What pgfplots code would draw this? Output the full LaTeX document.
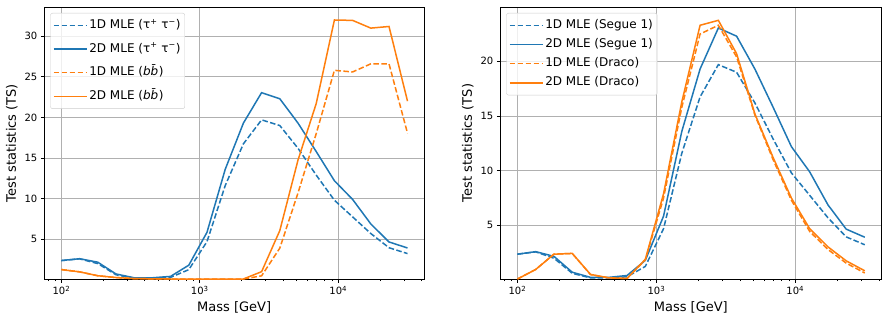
\documentclass[border=0pt]{standalone}
\usepackage{pgfplots}
\pgfplotsset{compat=1.18}
\usepackage{pgfplotstable}
\usepackage{fontspec}
\setmainfont{DejaVu Sans}
\definecolor{c0}{HTML}{1F77B4}
\definecolor{c1}{HTML}{FF7F0E}
\definecolor{gridc}{HTML}{B0B0B0}
\definecolor{legc}{HTML}{CCCCCC}

\pgfplotstableread{
m      t2    t1    b2    b1    d2    d1
100    2.37  2.37  1.26  1.26  0.10  0.10
135.35 2.60  2.58  0.98  0.98  0.97  0.97
183.20 2.17  2.00  0.50  0.50  2.37  2.37
247.97 0.72  0.62  0.28  0.28  2.44  2.44
335.63 0.25  0.20  0.15  0.15  0.52  0.50
454.28 0.25  0.20  0.12  0.12  0.21  0.20
614.88 0.42  0.30  0.10  0.10  0.15  0.15
832.26 1.80  1.25  0.10  0.10  1.89  1.85
1126.5 5.85  4.70  0.10  0.10  7.90  7.50
1524.8 13.6  11.6  0.10  0.10  16.3  15.8
2063.8 19.3  16.75 0.10  0.10  23.3  22.5
2793.4 23.05 19.70 1.00  0.49  23.75 23.3
3781.0 22.3  19.0  6.06  3.90  20.7  20.4
5117.6 19.3  16.2  14.75 10.7  15.2  15.1
6926.8 15.8  12.9  21.7  18.0  11.2  11.0
9375.6 12.2  9.8   32.0  25.8  7.5   7.3
12690  9.9   7.75  31.95 25.6  4.7   4.45
17176  6.88  5.70  31.0  26.6  3.04  2.8
23249  4.66  3.95  31.2  26.6  1.76  1.55
31623  3.92  3.23  22.0  18.05 0.85  0.65
}\data

\tikzset{
  dsh/.style={line width=1.5pt, dash pattern=on 5.55pt off 2.4pt},
  sld/.style={line width=1.5pt},
}

\begin{document}
\begin{tikzpicture}[x=1pt,y=1pt]
\useasboundingbox (0,0) rectangle (888,324);
\begin{axis}[
    /pgf/number format/assume math mode=true,
    xmode=log, log basis x=10,
    scale only axis, height=272pt,
    xmin=75.3, xmax=41600,
    xtick={100,1000,10000},
    xticklabels={10\textsuperscript{2},10\textsuperscript{3},10\textsuperscript{4}},
    minor xtick={80,90,200,300,400,500,600,700,800,900,2000,3000,4000,5000,6000,7000,8000,9000,20000,30000,40000},
    tick align=outside, tick pos=left,
    major tick length=3.5pt, minor tick length=2pt,
    every tick/.style={black, line width=0.8pt},
    grid=major, major grid style={gridc, line width=0.8pt},
    axis line style={line width=0.8pt},
    tick label style={font=\fontsize{10}{12}\selectfont},
    label style={font=\fontsize{13}{15}\selectfont},
    xlabel={Mass [GeV]}, ylabel={Test statistics (TS)},
    ymin=0.1,
    legend cell align=left,
    legend style={at={(0,1)}, anchor=north west, xshift=6pt, yshift=-6pt,
      draw=legc, rounded corners=2pt, fill=white, fill opacity=0.8, text opacity=1,
      font=\fontsize{12}{14}\selectfont, inner xsep=2.5pt, inner ysep=5pt,
      row sep=9pt,
      nodes={inner sep=1.8pt, text depth=0.25em, text height=0.85em}},
    legend image code/.code={\draw[#1] (0pt,0pt) -- (24pt,0pt); \path (0pt,0pt) -- (33pt,0pt);},
    at={(44.3pt,45pt)}, anchor=south west, width=379.7pt,
    ymax=33.6, ytick={5,10,15,20,25,30}]
\addplot[c0, dsh] table[x=m, y=t1] {\data};
\addlegendentry{1D MLE (τ\textsuperscript{+}\ τ\textsuperscript{−})}
\addplot[c0, sld] table[x=m, y=t2] {\data};
\addlegendentry{2D MLE (τ\textsuperscript{+}\ τ\textsuperscript{−})}
\addplot[c1, dsh] table[x=m, y=b1] {\data};
\addlegendentry{1D MLE (\textit{bb̄})}
\addplot[c1, sld] table[x=m, y=b2] {\data};
\addlegendentry{2D MLE (\textit{bb̄})}
\end{axis}
\begin{axis}[
    /pgf/number format/assume math mode=true,
    xmode=log, log basis x=10,
    scale only axis, height=272pt,
    xmin=75.3, xmax=41600,
    xtick={100,1000,10000},
    xticklabels={10\textsuperscript{2},10\textsuperscript{3},10\textsuperscript{4}},
    minor xtick={80,90,200,300,400,500,600,700,800,900,2000,3000,4000,5000,6000,7000,8000,9000,20000,30000,40000},
    tick align=outside, tick pos=left,
    major tick length=3.5pt, minor tick length=2pt,
    every tick/.style={black, line width=0.8pt},
    grid=major, major grid style={gridc, line width=0.8pt},
    axis line style={line width=0.8pt},
    tick label style={font=\fontsize{10}{12}\selectfont},
    label style={font=\fontsize{13}{15}\selectfont},
    xlabel={Mass [GeV]}, ylabel={Test statistics (TS)},
    ymin=0.1,
    legend cell align=left,
    legend style={at={(0,1)}, anchor=north west, xshift=6pt, yshift=-6pt,
      draw=legc, rounded corners=2pt, fill=white, fill opacity=0.8, text opacity=1,
      font=\fontsize{12}{14}\selectfont, inner xsep=2.5pt, inner ysep=5pt,
      row sep=4.5pt,
      nodes={inner sep=1.8pt, text depth=0.25em, text height=0.85em}},
    legend image code/.code={\draw[#1] (0pt,0pt) -- (24pt,0pt); \path (0pt,0pt) -- (33pt,0pt);},
    at={(500.3pt,45pt)}, anchor=south west, width=381pt,
    ymax=24.97, ytick={5,10,15,20}]
\addplot[c0, dsh] table[x=m, y=t1] {\data};
\addlegendentry{1D MLE (Segue 1)}
\addplot[c0, sld] table[x=m, y=t2] {\data};
\addlegendentry{2D MLE (Segue 1)}
\addplot[c1, dsh] table[x=m, y=d1] {\data};
\addlegendentry{1D MLE (Draco)}
\addplot[c1, sld] table[x=m, y=d2] {\data};
\addlegendentry{2D MLE (Draco)}
\end{axis}
\end{tikzpicture}
\end{document}
